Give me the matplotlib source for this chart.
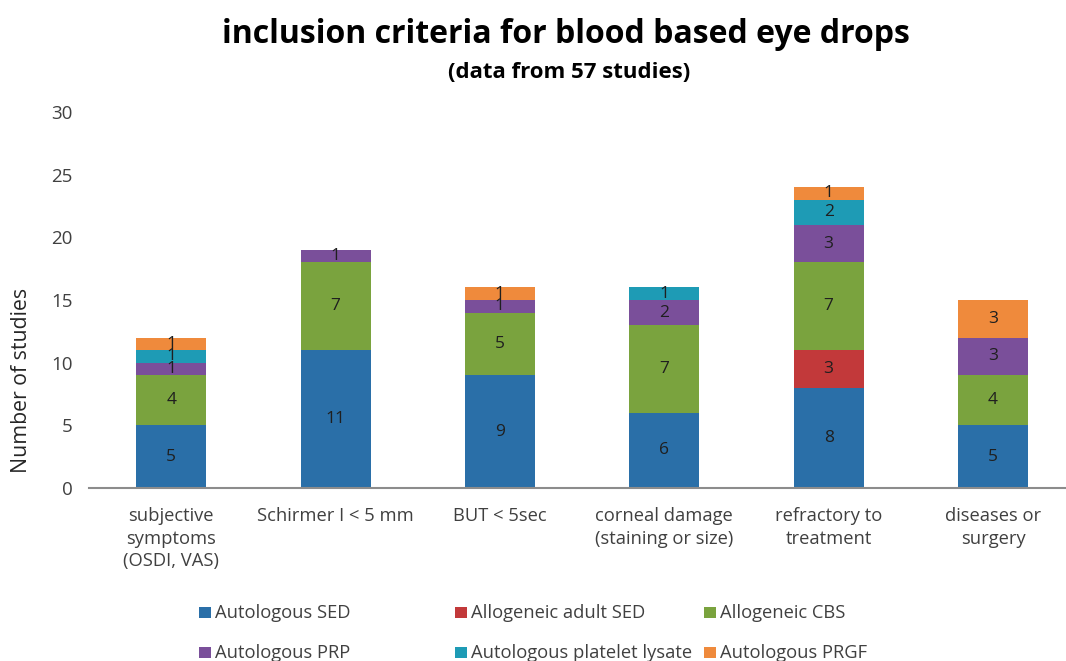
import matplotlib
matplotlib.use("Agg")
import matplotlib.pyplot as plt
from matplotlib.patches import Rectangle
import numpy as np

categories = ["subjective\nsymptoms\n(OSDI, VAS)", "Schirmer I < 5 mm", "BUT < 5sec",
              "corneal damage\n(staining or size)", "refractory to\ntreatment", "diseases or\nsurgery"]
series_names = ["Autologous SED", "Allogeneic adult SED", "Allogeneic CBS",
                "Autologous PRP", "Autologous platelet lysate", "Autologous PRGF"]
autologous_sed = [5, 11, 9, 6, 8, 5]
allogeneic_adult_sed = [0, 0, 0, 0, 3, 0]
allogeneic_cbs = [4, 7, 5, 7, 7, 4]
autologous_prp = [1, 1, 1, 2, 3, 3]
autologous_pl = [1, 0, 0, 1, 2, 0]
autologous_prgf = [1, 0, 1, 0, 1, 3]
colors = ["#2A6FA8", "#C2393A", "#7AA33E", "#7A4F9A", "#1E9BB5", "#EF8A3C"]
yticks = [0, 5, 10, 15, 20, 25, 30]

plt.rcParams['font.family'] = ['Open Sans', 'DejaVu Sans']

W, H = 1066, 661
fig = plt.figure(figsize=(W / 100, H / 100), dpi=100)
ax = fig.add_axes([89 / W, 1 - 488 / H, 1 - 89 / W, (488 - 112) / H])

series = [autologous_sed, allogeneic_adult_sed, allogeneic_cbs, autologous_prp, autologous_pl, autologous_prgf]
x = np.arange(len(categories))
bottom = np.zeros(len(categories))
width = 0.426
for vals, col, name in zip(series, colors, series_names):
    v = np.array(vals, dtype=float)
    ax.bar(x, v, width, bottom=bottom, color=col, label=name, linewidth=0)
    for xi, b, vi in zip(x, bottom, v):
        if vi > 0:
            ax.text(xi, b + vi / 2, f"{int(vi)}", ha="center", va="center",
                    fontsize=12.5, color="#1f1f1f")
    bottom += v

ax.set_xlim(-0.5, (W - 171) / 164.4)
ax.set_ylim(0, 30)
ax.set_yticks(yticks)
ax.set_xticks(x)
ax.set_xticklabels(categories, fontsize=13.2, color="#404040", linespacing=1.3, va="top")
ax.tick_params(axis="y", length=0, labelsize=13.5, colors="#404040", pad=12)
ax.tick_params(axis="x", length=0, pad=14)
for s in ["top", "right", "left"]:
    ax.spines[s].set_visible(False)
ax.spines["bottom"].set_color("#8c8c8c")
ax.spines["bottom"].set_linewidth(1.5)

fig.text(22 / W, 1 - 380 / H, "Number of studies", rotation=90, ha="center", va="center",
         fontsize=15.3, color="#262626")

fig.text(566 / W, 1 - 43 / H, "inclusion criteria for blood based eye drops",
         ha="center", va="baseline", fontsize=23, fontweight="bold", color="black")
fig.text(569 / W, 1 - 72 / H, "(data from 57 studies)",
         ha="center", va="center", fontsize=16, fontweight="bold", color="black")

# legend: two rows, three columns, row-wise order
order_rows = [[0, 1, 2], [3, 4, 5]]
col_x = [199, 455, 704]
row_y = [613, 653]
for r, row in enumerate(order_rows):
    for c, idx in enumerate(row):
        fig.patches.append(Rectangle(
            (col_x[c] / W, 1 - (row_y[r] + 5) / H), 12 / W, 11 / H, transform=fig.transFigure,
            facecolor=colors[idx], edgecolor="none"))
        fig.text((col_x[c] + 16) / W, 1 - row_y[r] / H, series_names[idx], ha="left", va="center",
                 fontsize=13.2, color="#404040")

fig.savefig("out.png", dpi=100)
